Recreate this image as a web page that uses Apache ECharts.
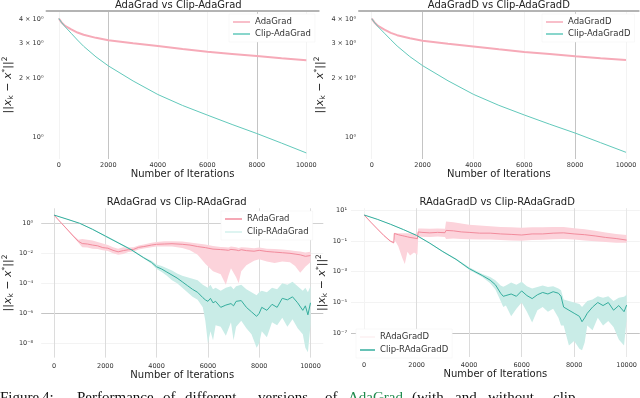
<!DOCTYPE html>
<html>
<head>
<meta charset="utf-8">
<title>AdaGrad variants with and without clipping</title>
<script src="https://cdn.jsdelivr.net/npm/echarts@6.0.0/dist/echarts.min.js"></script>
<style>
html, body { margin: 0; padding: 0; background: #fff; }
#chart { width: 640px; height: 398px; }
</style>
</head>
<body>
<div id="chart"></div>
<script>
// y values are log10 of ||x_k - x*||^2
const xTicks = [0, 2000, 4000, 6000, 8000, 10000]

// top left: AdaGrad vs Clip-AdaGrad
const adaX = [0, 100, 250, 500, 750, 1000, 1500, 2000, 3000, 4000, 5000, 6000, 7000, 8000, 9000, 10000]
const adaGrad = [0.604, 0.585, 0.566, 0.548, 0.532, 0.521, 0.505, 0.493, 0.477, 0.463, 0.448, 0.434, 0.423, 0.412, 0.401, 0.391]
const clipAdaGrad = [0.604, 0.585, 0.562, 0.528, 0.494, 0.462, 0.408, 0.362, 0.285, 0.216, 0.160, 0.111, 0.063, 0.017, -0.032, -0.082]

// top right: AdaGradD vs Clip-AdaGradD
const adaDX = [0, 100, 250, 500, 750, 1000, 1500, 2000, 3000, 4000, 5000, 6000, 7000, 8000, 9000, 10000]
const adaGradD = [0.604, 0.586, 0.567, 0.548, 0.532, 0.520, 0.504, 0.492, 0.476, 0.462, 0.448, 0.435, 0.424, 0.413, 0.403, 0.394]
const clipAdaGradD = [0.604, 0.586, 0.563, 0.530, 0.497, 0.465, 0.411, 0.365, 0.288, 0.219, 0.163, 0.114, 0.067, 0.022, -0.027, -0.076]

const topYTicks = [1, 2, 3, 4]
const topYLabels = ['10⁰', '2 × 10⁰', '3 × 10⁰', '4 × 10⁰']

// bottom left: RAdaGrad vs Clip-RAdaGrad
const rAdaX = [0, 250, 500, 750, 950, 1100, 1300, 1500, 1700, 1900, 2100, 2300, 2500, 2700, 2900, 3100, 3300, 3500, 3800, 4000, 4300, 4600, 5000, 5300, 5600, 5900, 6200, 6500, 6700, 6800, 6900, 7100, 7200, 7300, 7500, 7800, 8000, 8300, 8600, 8900, 9200, 9400, 9600, 9800, 10000]
const rAdaGrad = [0.55, 0.08, -0.38, -0.85, -1.2, -1.35, -1.38, -1.45, -1.5, -1.62, -1.66, -1.8, -1.9, -1.82, -1.76, -1.74, -1.6, -1.55, -1.45, -1.4, -1.38, -1.36, -1.4, -1.45, -1.55, -1.62, -1.72, -1.75, -1.78, -1.8, -1.74, -1.78, -1.82, -1.76, -1.82, -1.86, -1.8, -1.88, -1.92, -1.96, -2.0, -2.05, -2.1, -2.2, -2.15]
const rAdaGradHi = [0.56, 0.1, -0.35, -0.8, -1.1, -1.05, -1.1, -1.15, -1.25, -1.35, -1.45, -1.6, -1.7, -1.6, -1.62, -1.6, -1.48, -1.42, -1.3, -1.25, -1.2, -1.2, -1.22, -1.28, -1.35, -1.42, -1.52, -1.58, -1.6, -1.62, -1.55, -1.6, -1.64, -1.6, -1.62, -1.66, -1.62, -1.7, -1.72, -1.75, -1.8, -1.85, -1.88, -1.95, -1.9]
const rAdaGradLo = [0.54, 0.06, -0.42, -0.9, -1.3, -1.6, -1.62, -1.7, -1.72, -1.8, -1.85, -2.0, -2.1, -2.05, -1.92, -1.88, -1.75, -1.68, -1.6, -1.55, -1.55, -1.55, -1.65, -1.8, -2.1, -2.7, -3.2, -3.4, -4.1, -3.5, -3.0, -3.6, -4.0, -3.2, -2.8, -2.5, -2.4, -2.55, -2.65, -2.55, -2.6, -2.85, -3.3, -2.9, -2.6]

const clipRAdaX = [0, 500, 1000, 1500, 2000, 2500, 3000, 3500, 3800, 4000, 4200, 4400, 4600, 4800, 5000, 5200, 5400, 5600, 5800, 5900, 6000, 6100, 6200, 6300, 6500, 6700, 6900, 7000, 7100, 7300, 7500, 7700, 7900, 8000, 8100, 8300, 8500, 8700, 8900, 9100, 9300, 9500, 9700, 9800, 9900, 10000]
const clipRAdaGrad = [0.55, 0.28, 0.0, -0.4, -0.85, -1.3, -1.75, -2.3, -2.6, -2.9, -3.05, -3.25, -3.45, -3.65, -3.9, -4.15, -4.4, -4.6, -4.95, -5.1, -5.2, -5.0, -5.3, -5.2, -5.6, -5.45, -5.35, -5.5, -5.2, -5.15, -5.6, -5.9, -6.2, -6.0, -5.6, -5.8, -5.4, -5.6, -5.0, -5.1, -4.9, -5.3, -5.8, -5.5, -6.1, -5.3]
const clipRAdaGradHi = [0.56, 0.3, 0.02, -0.37, -0.8, -1.25, -1.7, -2.25, -2.5, -2.75, -2.85, -3.0, -3.15, -3.35, -3.5, -3.6, -3.7, -3.8, -4.1, -4.2, -4.3, -4.1, -4.4, -4.3, -4.5, -4.3, -4.2, -4.4, -4.2, -4.1, -4.4, -4.6, -4.8, -4.6, -4.5, -4.6, -4.3, -4.4, -4.0, -4.1, -3.9, -4.2, -4.5, -4.3, -4.6, -4.2]
const clipRAdaGradLo = [0.54, 0.26, -0.02, -0.43, -0.9, -1.35, -1.8, -2.35, -2.7, -3.05, -3.25, -3.5, -3.8, -4.0, -4.3, -4.6, -4.9, -5.1, -5.6, -6.5, -8.0, -7.2, -7.8, -6.8, -6.9, -7.5, -6.6, -7.8, -6.9, -6.5, -7.0, -7.4, -8.3, -8.0, -7.2, -7.6, -6.6, -6.8, -6.3, -6.9, -6.4, -7.0, -7.4, -8.3, -8.6, -6.8]

const blYTicks = [1e-8, 1e-6, 1e-4, 1e-2, 1]
const blYLabels = ['10⁻⁸', '10⁻⁶', '10⁻⁴', '10⁻²', '10⁰']

// bottom right: RAdaGradD vs Clip-RAdaGradD
const rAdaDX = [0, 250, 500, 750, 1000, 1130, 1150, 1300, 1450, 1550, 1650, 1750, 1900, 2030, 2060, 2200, 2500, 2800, 3080, 3120, 3400, 3700, 4000, 4400, 4800, 5200, 5600, 6000, 6400, 6800, 7200, 7600, 8000, 8400, 8800, 9200, 9600, 10000]
const rAdaGradD = [0.68, 0.22, -0.22, -0.65, -1.02, -1.12, -0.52, -0.6, -0.66, -0.7, -0.74, -0.78, -0.82, -0.86, -0.42, -0.45, -0.48, -0.45, -0.47, -0.32, -0.35, -0.42, -0.45, -0.5, -0.5, -0.55, -0.58, -0.62, -0.55, -0.55, -0.5, -0.48, -0.55, -0.6, -0.68, -0.78, -0.85, -0.95]
const rAdaGradDHi = [0.69, 0.24, -0.19, -0.62, -0.98, -1.06, -0.48, -0.5, -0.5, -0.5, -0.5, -0.52, -0.52, -0.55, -0.2, -0.2, -0.22, -0.2, -0.22, 0.25, 0.2, 0.12, 0.05, 0.0, -0.05, -0.1, -0.12, -0.15, -0.12, -0.12, -0.1, -0.1, -0.18, -0.25, -0.35, -0.45, -0.55, -0.62]
const rAdaGradDLo = [0.67, 0.2, -0.25, -0.68, -1.06, -1.18, -0.9, -1.35, -2.1, -2.5, -1.7, -1.95, -1.75, -1.9, -0.72, -0.73, -0.75, -0.72, -0.75, -0.88, -0.85, -0.88, -0.9, -0.92, -0.92, -0.95, -0.98, -1.0, -0.95, -0.93, -0.9, -0.88, -0.92, -0.98, -1.02, -1.08, -1.12, -1.12]

const clipRAdaDX = [0, 500, 1000, 1500, 2000, 2500, 3000, 3500, 4000, 4500, 4800, 5000, 5200, 5300, 5400, 5600, 5800, 6000, 6200, 6400, 6600, 6800, 7000, 7200, 7400, 7500, 7600, 7800, 8000, 8200, 8300, 8400, 8500, 8700, 8900, 9100, 9300, 9500, 9700, 9900, 10000]
const clipRAdaGradD = [0.68, 0.4, 0.08, -0.27, -0.65, -1.15, -1.7, -2.2, -2.8, -3.25, -3.55, -3.85, -4.4, -4.6, -4.55, -4.45, -4.6, -4.25, -4.55, -4.75, -4.5, -4.35, -4.45, -4.3, -4.4, -4.6, -5.3, -5.5, -5.7, -5.9, -6.25, -6.0, -5.7, -5.3, -5.0, -5.2, -5.0, -5.5, -5.2, -5.6, -5.17]
const clipRAdaGradDHi = [0.69, 0.42, 0.1, -0.25, -0.62, -1.12, -1.66, -2.15, -2.72, -3.15, -3.35, -3.55, -3.9, -3.98, -3.9, -3.7, -3.85, -3.65, -3.95, -4.1, -4.0, -3.9, -4.0, -3.95, -4.1, -4.2, -4.8, -4.9, -5.0, -5.1, -5.3, -5.1, -4.9, -4.8, -4.6, -4.7, -4.6, -4.9, -4.7, -4.63, -4.5]
const clipRAdaGradDLo = [0.67, 0.38, 0.06, -0.29, -0.68, -1.18, -1.74, -2.25, -2.88, -3.35, -3.75, -4.15, -4.9, -5.3, -5.2, -5.9, -5.4, -5.0, -5.6, -6.3, -5.5, -5.3, -5.6, -5.4, -6.0, -6.5, -6.5, -7.8, -7.5, -8.0, -8.1, -7.6, -6.5, -6.8, -6.0, -6.5, -6.2, -6.6, -7.4, -7.8, -6.1]

const brYTicks = [1e-7, 1e-5, 1e-3, 1e-1, 10]
const brYLabels = ['10⁻⁷', '10⁻⁵', '10⁻³', '10⁻¹', '10¹']

const FONT = 'DejaVu Sans'
const PINK = '#f28b9c'
const PINK_LIGHT = '#f6aab8'
const PINK_BAND = '#fcd3db'
const TEAL = '#35ae9e'
const TEAL_LIGHT = '#62c9bb'
const TEAL_BAND = '#c9ece7'

const yName = '{b|||}{i|x}{s|k}{b| − }{i|x}{p|*}{b|||}{p|2}'
const yNameStyle = {
  fontFamily: FONT,
  color: '#222',
  rich: {
    b: { fontSize: 11, lineHeight: 14, fontFamily: FONT, color: '#222' },
    i: { fontSize: 11, fontStyle: 'italic', fontFamily: FONT, color: '#222' },
    s: { fontSize: 7.5, verticalAlign: 'bottom', fontFamily: FONT, color: '#222' },
    p: { fontSize: 7.5, verticalAlign: 'top', fontFamily: FONT, color: '#222' }
  }
}

function pairs(xs, ys) {
  return xs.map((x, i) => [x, ys[i]])
}

function nearest(vals, v) {
  let best = 0
  vals.forEach((t, i) => { if (Math.abs(t - v) < Math.abs(vals[best] - v)) best = i })
  return best
}

function xAxis(gridIndex, labelMargin, nameGap, gridColors) {
  return {
    type: 'value', gridIndex, min: -500, max: 10500,
    axisLine: { show: false },
    axisTick: { show: false, customValues: xTicks },
    axisLabel: {
      customValues: xTicks, fontSize: 6.5, color: '#333', margin: labelMargin, fontFamily: FONT,
      formatter: v => String(Math.round(v))
    },
    splitLine: { show: true, lineStyle: { color: gridColors, width: 1 } },
    name: 'Number of Iterations', nameLocation: 'middle', nameGap,
    nameTextStyle: { fontSize: 10, color: '#222', fontFamily: FONT }
  }
}

// thin grey line along the top edge of the upper plots
function topEdge(gridIndex) {
  return {
    type: 'value', gridIndex, position: 'top', min: -500, max: 10500,
    axisLine: { show: true, lineStyle: { color: '#b4b4b4', width: 2 } },
    axisTick: { show: false }, axisLabel: { show: false }, splitLine: { show: false }
  }
}

function yAxis(gridIndex, min, max, ticks, labels, labelMargin, nameGap, gridColors) {
  const vals = ticks.map(t => Math.log10(t))
  return {
    type: 'value', gridIndex, min, max,
    axisLine: { show: false },
    axisTick: { show: false, customValues: vals },
    axisLabel: {
      customValues: vals, fontSize: 6.5, color: '#333', margin: labelMargin, fontFamily: FONT,
      formatter: v => labels[nearest(vals, v)]
    },
    splitLine: gridColors ? { show: true, lineStyle: { color: gridColors, width: 1 } } : { show: false },
    name: yName, nameLocation: 'middle', nameRotate: 90, nameGap,
    nameTextStyle: yNameStyle
  }
}

function line(name, axis, xs, ys, color, width) {
  return {
    type: 'line', name, xAxisIndex: axis, yAxisIndex: axis,
    data: pairs(xs, ys), color, showSymbol: false, symbol: 'none',
    lineStyle: { color, width }, z: 3, animation: false
  }
}

// shaded band between lo and hi, drawn through the axis scales
function band(name, axis, xs, lo, hi, color) {
  return {
    type: 'custom', name, xAxisIndex: axis, yAxisIndex: axis, silent: true, z: 2, animation: false,
    data: xs.map((x, i) => [x, lo[i], hi[i]]),
    encode: { x: 0, y: [1, 2] },
    renderItem(params, api) {
      if (params.dataIndex !== 0) return null
      const top = xs.map((x, i) => api.coord([x, hi[i]]))
      const bottom = xs.map((x, i) => api.coord([x, lo[i]])).reverse()
      return { type: 'polygon', shape: { points: top.concat(bottom) }, style: { fill: color } }
    }
  }
}

function legend(items, left, top, width, gap) {
  return {
    data: items, orient: 'vertical', left, top, icon: 'rect',
    itemWidth: width, itemHeight: 1.5, itemGap: gap, padding: [3, 4],
    backgroundColor: '#fff', borderColor: '#f0f0f0', borderWidth: 0.5,
    textStyle: { fontSize: 8.5, color: '#333', fontFamily: FONT, lineHeight: 10 }
  }
}

function title(text, center, top) {
  return {
    text, left: center, top, textAlign: 'center', padding: 0,
    textStyle: { fontSize: 10, fontWeight: 'normal', color: '#222', fontFamily: FONT }
  }
}

const chart = echarts.init(document.getElementById('chart'), null, { renderer: 'canvas' })

const faint = '#f3f3f3'
const mid = '#dcdcdc'
const dark = '#c4c4c4'

const captionFont = { fontSize: 15, fontFamily: 'Liberation Serif', fill: '#111', verticalAlign: 'middle' }
const captionWords = [
  ['Figure', 0], ['4:', 42], ['Performance', 77], ['of', 163], ['different', 185], ['versions', 258],
  ['of', 325], ['AdaGrad', 348], ['(with', 412], ['and', 455], ['without', 488], ['clip-', 553]
]

chart.setOption({
  animation: false,
  backgroundColor: '#fff',
  title: [
    title('AdaGrad vs Clip-AdaGrad', 178.3, 0),
    title('AdaGradD vs Clip-AdaGradD', 498.8, 0),
    title('RAdaGrad vs Clip-RAdaGrad', 176.7, 197),
    title('RAdaGradD vs Clip-RAdaGradD', 497.2, 197)
  ],
  grid: [
    { left: 37.9, top: 11, width: 280.8, height: 148 },
    { left: 359, top: 11, width: 279.7, height: 148 },
    { left: 30, top: 208.3, width: 293.3, height: 149.3 },
    { left: 351, top: 208.2, width: 292.3, height: 148.8 }
  ],
  xAxis: [
    xAxis(0, 3, 8, [faint, dark, faint, faint, dark, faint]),
    xAxis(1, 3, 8, [faint, dark, faint, faint, dark, faint]),
    xAxis(2, 5, 11, [mid, mid, mid, mid, mid, mid]),
    xAxis(3, 5, 11, [faint, mid, mid, mid, mid, '#e8e8e8']),
    topEdge(0),
    topEdge(1)
  ],
  yAxis: [
    yAxis(0, -0.113, 0.642, topYTicks, topYLabels, 3, 23, null),
    yAxis(1, -0.11, 0.643, topYTicks, topYLabels, 3, 24, null),
    yAxis(2, -8.95, 1.0, blYTicks, blYLabels, 8, 16, [faint, dark, faint, faint, '#d2d2d2']),
    yAxis(3, -8.54, 1.12, brYTicks, brYLabels, 4, 17, [dark, faint, faint, faint, faint])
  ],
  legend: [
    legend(['AdaGrad', 'Clip-AdaGrad'], 229, 14, 17, 2),
    legend(['AdaGradD', 'Clip-AdaGradD'], 542, 14, 17, 2),
    legend(['RAdaGrad', { name: 'Clip-RAdaGrad', itemStyle: { color: '#d3f0ec' } }], 221, 211, 17, 3),
    legend([{ name: 'RAdaGradD', itemStyle: { color: '#fcf0f2' } }, 'Clip-RAdaGradD'], 356, 329, 15, 3)
  ],
  series: [
    line('AdaGrad', 0, adaX, adaGrad, PINK_LIGHT, 2),
    line('Clip-AdaGrad', 0, adaX, clipAdaGrad, TEAL_LIGHT, 1),
    line('AdaGradD', 1, adaDX, adaGradD, PINK_LIGHT, 2),
    line('Clip-AdaGradD', 1, adaDX, clipAdaGradD, TEAL_LIGHT, 1),

    band('RAdaGrad band', 2, rAdaX, rAdaGradLo, rAdaGradHi, PINK_BAND),
    band('Clip-RAdaGrad band', 2, clipRAdaX, clipRAdaGradLo, clipRAdaGradHi, TEAL_BAND),
    line('RAdaGrad', 2, rAdaX, rAdaGrad, PINK, 1),
    line('Clip-RAdaGrad', 2, clipRAdaX, clipRAdaGrad, TEAL, 1),

    band('RAdaGradD band', 3, rAdaDX, rAdaGradDLo, rAdaGradDHi, PINK_BAND),
    band('Clip-RAdaGradD band', 3, clipRAdaDX, clipRAdaGradDLo, clipRAdaGradDHi, TEAL_BAND),
    line('RAdaGradD', 3, rAdaDX, rAdaGradD, PINK, 1),
    line('Clip-RAdaGradD', 3, clipRAdaDX, clipRAdaGradD, TEAL, 1)
  ],
  graphic: captionWords.map(([word, x]) => ({
    type: 'text', x, y: 398, silent: true,
    style: Object.assign({ text: word }, captionFont, word === 'AdaGrad' ? { fill: '#1e8a4c' } : {})
  }))
})
</script>
</body>
</html>
